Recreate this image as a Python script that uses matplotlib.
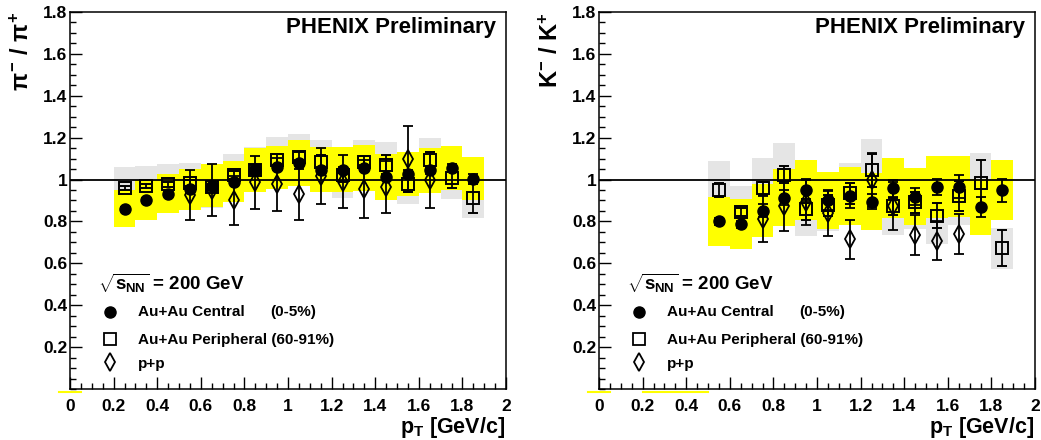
import matplotlib
matplotlib.use("Agg")
import matplotlib.pyplot as plt
from matplotlib.ticker import MultipleLocator, FixedLocator

plt.rcParams['font.family'] = ['Liberation Sans', 'DejaVu Sans']
plt.rcParams['font.weight'] = 'bold'
plt.rcParams['mathtext.fontset'] = 'custom'
plt.rcParams['mathtext.rm'] = 'Liberation Sans:bold'
plt.rcParams['mathtext.it'] = 'Liberation Sans:bold'
plt.rcParams['mathtext.bf'] = 'Liberation Sans:bold'
plt.rcParams['mathtext.sf'] = 'Liberation Sans:bold'

# pi-/pi+ data
pt_pi = [0.25, 0.35, 0.45, 0.55, 0.65, 0.75, 0.85, 0.95, 1.05, 1.15, 1.25, 1.35, 1.45, 1.55, 1.65, 1.75, 1.85]
pi_cen = [0.861, 0.903, 0.933, 0.953, 0.970, 0.990, 1.047, 1.059, 1.078, 1.048, 1.047, 1.055, 1.012, 1.028, 1.044, 1.056, 1.005]
pi_cen_stat = [0.008, 0.008, 0.009, 0.010, 0.010, 0.011, 0.012, 0.012, 0.013, 0.013, 0.014, 0.014, 0.015, 0.016, 0.017, 0.018, 0.020]
pi_cen_sys = [0.087, 0.095, 0.094, 0.098, 0.102, 0.098, 0.106, 0.102, 0.111, 0.108, 0.108, 0.108, 0.111, 0.105, 0.108, 0.106, 0.102]
pi_per = [0.961, 0.969, 0.977, 0.984, 0.963, 1.023, 1.048, 1.095, 1.106, 1.086, 1.020, 1.083, 1.070, 0.981, 1.091, 1.008, 0.911]
pi_per_stat = [0.010, 0.010, 0.012, 0.015, 0.015, 0.020, 0.020, 0.025, 0.027, 0.030, 0.030, 0.030, 0.045, 0.040, 0.040, 0.050, 0.070]
pi_per_sys = [0.097, 0.097, 0.095, 0.097, 0.098, 0.100, 0.106, 0.106, 0.111, 0.105, 0.106, 0.108, 0.108, 0.100, 0.108, 0.102, 0.095]
pt_pi_pp = [0.55, 0.65, 0.75, 0.85, 0.95, 1.05, 1.15, 1.25, 1.35, 1.45, 1.55, 1.65]
pi_pp = [0.927, 0.950, 0.900, 0.986, 0.978, 0.930, 1.017, 0.989, 0.955, 0.963, 1.098, 0.997]
pi_pp_err = [0.121, 0.124, 0.119, 0.127, 0.127, 0.122, 0.132, 0.127, 0.138, 0.124, 0.157, 0.135]

# K-/K+ data
pt_k = [0.55, 0.65, 0.75, 0.85, 0.95, 1.05, 1.15, 1.25, 1.35, 1.45, 1.55, 1.65, 1.75, 1.85]
k_cen = [0.800, 0.786, 0.852, 0.914, 0.950, 0.900, 0.922, 0.895, 0.958, 0.919, 0.964, 0.966, 0.869, 0.950]
k_cen_stat = [0.015, 0.015, 0.030, 0.035, 0.050, 0.045, 0.060, 0.035, 0.040, 0.040, 0.040, 0.055, 0.050, 0.055]
k_cen_sys = [0.119, 0.119, 0.127, 0.137, 0.141, 0.135, 0.138, 0.135, 0.143, 0.138, 0.148, 0.146, 0.135, 0.143]
k_per = [0.950, 0.844, 0.958, 1.023, 0.859, 0.877, 0.934, 1.044, 0.872, 0.892, 0.828, 0.922, 0.984, 0.672]
k_per_stat = [0.035, 0.020, 0.030, 0.040, 0.050, 0.050, 0.050, 0.080, 0.040, 0.050, 0.060, 0.070, 0.110, 0.087]
k_per_sys = [0.140, 0.124, 0.143, 0.152, 0.130, 0.124, 0.143, 0.151, 0.135, 0.127, 0.135, 0.138, 0.144, 0.098]
pt_k_pp = [0.75, 0.85, 0.95, 1.05, 1.15, 1.25, 1.35, 1.45, 1.55, 1.65]
k_pp = [0.810, 0.872, 0.895, 0.840, 0.716, 0.997, 0.872, 0.736, 0.708, 0.739]
k_pp_err = [0.110, 0.120, 0.110, 0.110, 0.093, 0.128, 0.115, 0.095, 0.093, 0.096]

xticks = [0, 0.2, 0.4, 0.6, 0.8, 1, 1.2, 1.4, 1.6, 1.8, 2]
xlabels = ['0', '0.2', '0.4', '0.6', '0.8', '1', '1.2', '1.4', '1.6', '1.8', '2']
yticks = [0.2, 0.4, 0.6, 0.8, 1, 1.2, 1.4, 1.6, 1.8]
ylabels = ['0.2', '0.4', '0.6', '0.8', '1', '1.2', '1.4', '1.6', '1.8']

GREY = '#e5e5e5'
YELLOW = '#ffff00'


def draw_panel(ax, pt, cen, cen_stat, cen_sys, per, per_stat, per_sys,
               pt_pp, pp, pp_err, ylab, yellow_bits):
    # systematic boxes
    ax.bar(pt, [2 * s for s in per_sys], bottom=[v - s for v, s in zip(per, per_sys)],
           width=0.1, color=GREY, zorder=1)
    ax.bar(pt, [2 * s for s in cen_sys], bottom=[v - s for v, s in zip(cen, cen_sys)],
           width=0.1, color=YELLOW, zorder=2)
    ax.axhline(1.0, color='black', lw=1.3, zorder=3)

    ax.errorbar(pt, per, yerr=per_stat, fmt='s', ms=9, mfc='none', mec='black',
                mew=1.4, ecolor='black', elinewidth=1.3, capsize=3.5, capthick=1.3, zorder=4)
    ax.errorbar(pt, cen, yerr=cen_stat, fmt='o', ms=8, color='black',
                ecolor='black', elinewidth=1.3, capsize=3.5, capthick=1.3, zorder=5)
    ax.errorbar(pt_pp, pp, yerr=pp_err, fmt='d', ms=9, mfc='none', mec='black',
                mew=1.3, ecolor='black', elinewidth=1.3, capsize=3.5, capthick=1.3, zorder=6)

    # stray yellow pieces under the axis
    for x0, x1 in yellow_bits:
        ax.plot([x0, x1], [-0.012, -0.012], color=YELLOW, lw=1.5, clip_on=False, zorder=0)

    ax.set_xlim(0, 2)
    ax.set_ylim(0, 1.8)
    ax.xaxis.set_major_locator(FixedLocator(xticks))
    ax.set_xticklabels(xlabels)
    ax.yaxis.set_major_locator(FixedLocator(yticks))
    ax.set_yticklabels(ylabels)
    ax.xaxis.set_minor_locator(MultipleLocator(0.05))
    ax.yaxis.set_minor_locator(MultipleLocator(0.05))
    ax.tick_params(which='major', direction='in', length=8.5, width=1.0,
                   top=False, right=False, labelsize=12.5)
    ax.tick_params(which='minor', direction='in', length=4.3, width=1.0,
                   top=False, right=False)
    ax.tick_params(axis='x', pad=7)
    ax.tick_params(axis='y', pad=2)
    for sp in ax.spines.values():
        sp.set_linewidth(1.1)

    ax.text(-0.11, 1.0, ylab, transform=ax.transAxes, rotation=90,
            ha='center', va='top', fontsize=17)
    ax.text(0.998, -0.103, r'p$_{\mathrm{T}}$ [GeV/c]', transform=ax.transAxes,
            ha='right', va='center', fontsize=15.5)
    ax.text(1.955, 1.725, 'PHENIX Preliminary', ha='right', va='center', fontsize=16)

    # legend
    ax.text(0.128, 0.506, r'$\sqrt{s_{NN}}$ = 200 GeV', ha='left', va='center', fontsize=13.5)
    ax.plot([0.185], [0.368], 'o', ms=8, color='black', clip_on=False)
    ax.plot([0.185], [0.239], 's', ms=9, mfc='none', mec='black', mew=1.3)
    ax.plot([0.185], [0.129], 'd', ms=9, mfc='none', mec='black', mew=1.3)
    ax.text(0.312, 0.368, 'Au+Au Central', ha='left', va='center', fontsize=11)
    ax.text(0.92, 0.368, '(0-5%)', ha='left', va='center', fontsize=11)
    ax.text(0.312, 0.232, 'Au+Au Peripheral (60-91%)', ha='left', va='center', fontsize=11)
    ax.text(0.312, 0.118, 'p+p', ha='left', va='center', fontsize=11)


fig = plt.figure(figsize=(10.41, 4.40), dpi=100)
ax1 = fig.add_axes([70 / 1041, 51 / 440, 436 / 1041, 377 / 440])
ax2 = fig.add_axes([599 / 1041, 51 / 440, 436 / 1041, 377 / 440])

draw_panel(ax1, pt_pi, pi_cen, pi_cen_stat, pi_cen_sys, pi_per, pi_per_stat, pi_per_sys,
           pt_pi_pp, pi_pp, pi_pp_err, r'$\pi^{-}$ / $\pi^{+}$', [(-0.05, 0.05)])
draw_panel(ax2, pt_k, k_cen, k_cen_stat, k_cen_sys, k_per, k_per_stat, k_per_sys,
           pt_k_pp, k_pp, k_pp_err, r'K$^{-}$ / K$^{+}$', [(-0.05, 0.05), (0.2, 0.5)])

fig.savefig('out.png', dpi=100)
